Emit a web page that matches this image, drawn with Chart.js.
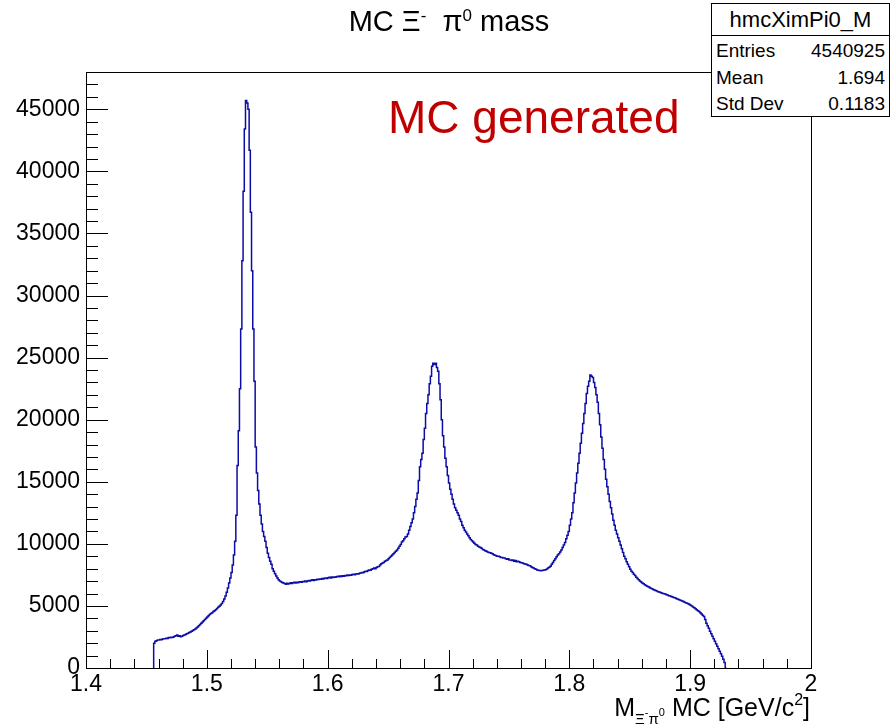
<!DOCTYPE html>
<html>
<head>
<meta charset="utf-8">
<script src="https://cdn.jsdelivr.net/npm/chart.js@4/dist/chart.umd.min.js"></script>
<style>
  html, body { margin:0; padding:0; background:#fff; }
  #wrap { position:relative; width:890px; height:727px; font-family:"Liberation Sans", Arial, Helvetica, sans-serif; }
  canvas { position:absolute; left:0; top:0; }
  .ov { position:absolute; white-space:nowrap; color:#000; }
  #title { left:449px; top:5px; transform:translateX(-50%); font-size:29px; line-height:33px; }
  #title sup { font-size:17px; vertical-align:10px; line-height:0; }
  #stats { left:711px; top:3px; width:177px; height:112px; background:#fff; border:1px solid #000; }
  #stats .hdr { position:absolute; left:0; top:0; width:177px; height:31px; border-bottom:1px solid #000; text-align:center; font-size:22px; line-height:31px; }
  #stats .row { position:absolute; left:4px; width:169px; font-size:19px; line-height:22px; }
  #stats .row span.v { position:absolute; right:0; }
  #ann { left:388px; top:91px; font-size:46px; line-height:52px; color:#c00000; }
  #xtitle { right:80px; top:693px; font-size:25px; line-height:29px; }
  #xtitle sub { font-size:15px; vertical-align:-8px; line-height:0; }
  #xtitle sub sup { font-size:11px; vertical-align:8px; }
  #xtitle > sup { font-size:16px; vertical-align:11px; line-height:0; }
</style>
</head>
<body>
<div id="wrap">
  <canvas id="c" width="890" height="727"></canvas>
  <div class="ov" id="title">MC &Xi;<sup>-</sup>&nbsp; &pi;<sup>0</sup> mass</div>
  <div class="ov" id="ann">MC generated</div>
  <div class="ov" id="xtitle">M<sub>&Xi;<sup>-</sup>&pi;<sup>0</sup></sub> MC [GeV/c<sup>2</sup>]</div>
  <div class="ov" id="stats">
    <div class="hdr" id="statsName"></div>
    <div class="row" style="top:36px"><span id="l0"></span><span class="v" id="v0"></span></div>
    <div class="row" style="top:63px"><span id="l1"></span><span class="v" id="v1"></span></div>
    <div class="row" style="top:89px"><span id="l2"></span><span class="v" id="v2"></span></div>
  </div>
</div>
<script>
// ---------------- data ----------------
const histName = "hmcXimPi0_M";
const statLabels = ["Entries", "Mean", "Std Dev"];
const statValues = ["4540925", "1.694", "0.1183"];

const binStart = 1.456;   // low edge of first filled bin (GeV/c^2)
const binWidth = 0.001;   // bin width (GeV/c^2)

// bin contents, one per bin starting at binStart
const counts = [
  1700, 2000, 2150, 2200, 2250, 2250, 2300, 2280, 2330, 2350,
  2350, 2400, 2380, 2450, 2430, 2480, 2450, 2500, 2550, 2600,
  2650, 2560, 2600, 2520, 2560, 2620, 2660, 2700, 2760, 2800,
  2850, 2900, 2950, 3020, 3080, 3150, 3220, 3300, 3400, 3500,
  3600, 3700, 3800, 3900, 4000, 4100, 4200, 4300, 4380, 4450,
  4550, 4620, 4700, 4800, 4900, 4980, 5080, 5200, 5350, 5550,
  5800, 6100, 6450, 6850, 7250, 7700, 8300, 9100, 10200, 12300,
  16300, 19100, 22500, 27300, 32800, 38400, 43400, 45700, 45500, 45000,
  41700, 36700, 32000, 27300, 23100, 17800, 15700, 14300, 13200, 12300,
  11600, 11000, 10600, 10200, 9700, 9250, 8900, 8600, 8350, 8000,
  7800, 7600, 7400, 7250, 7100, 7000, 6950, 6880, 6850, 6800,
  6750, 6820, 6760, 6800, 6860, 6800, 6870, 6900, 6840, 6900,
  6860, 6920, 6950, 6900, 6960, 6940, 7000, 6950, 7010, 7050,
  7000, 7060, 7100, 7050, 7110, 7080, 7150, 7120, 7160, 7150,
  7200, 7170, 7220, 7250, 7210, 7260, 7300, 7250, 7320, 7280,
  7330, 7300, 7350, 7380, 7340, 7400, 7370, 7420, 7390, 7450,
  7420, 7480, 7450, 7500, 7470, 7530, 7560, 7520, 7580, 7600,
  7570, 7630, 7650, 7700, 7680, 7750, 7800, 7780, 7850, 7900,
  7880, 7950, 8000, 8050, 8000, 8100, 8150, 8180, 8300, 8400,
  8450, 8500, 8600, 8650, 8700, 8800, 8900, 9000, 9100, 9200,
  9300, 9400, 9500, 9650, 9800, 9950, 10150, 10250, 10400, 10550,
  10600, 10800, 11100, 11400, 11700, 12000, 12500, 13000, 13600, 14100,
  15100, 16200, 16800, 17300, 18400, 19300, 20500, 21300, 22000, 22900,
  23500, 24300, 24550, 24450, 24550, 24200, 23900, 22900, 21600, 20000,
  18700, 17800, 16900, 16200, 15500, 14900, 14400, 14000, 13600, 13200,
  12900, 12700, 12500, 12300, 12000, 11800, 11500, 11300, 11100, 10950,
  10800, 10650, 10500, 10350, 10250, 10150, 10050, 9950, 9900, 9800,
  9750, 9700, 9650, 9550, 9500, 9450, 9400, 9350, 9300, 9280,
  9250, 9200, 9120, 9080, 9050, 9000, 9000, 8950, 8900, 8900,
  8850, 8850, 8800, 8750, 8800, 8700, 8700, 8650, 8700, 8600,
  8650, 8550, 8600, 8550, 8500, 8480, 8450, 8400, 8380, 8350,
  8300, 8250, 8230, 8150, 8100, 8050, 8000, 7950, 7900, 7870,
  7850, 7840, 7850, 7880, 7900, 7920, 7980, 8050, 8120, 8200,
  8350, 8500, 8650, 8800, 8950, 9100, 9200, 9350, 9500, 9700,
  9900, 10100, 10400, 10700, 11000, 11500, 12000, 12500, 13300, 14100,
  14900, 15700, 16500, 17300, 18100, 18900, 19700, 20500, 21300, 22100,
  22700, 23100, 23600, 23500, 23400, 23000, 22600, 22000, 21400, 20500,
  19600, 18600, 17700, 16800, 16000, 15200, 14600, 14000, 13400, 12900,
  12400, 11900, 11500, 11100, 10800, 10500, 10200, 9900, 9600, 9300,
  9000, 8800, 8550, 8350, 8150, 7950, 7800, 7700, 7550, 7450,
  7300, 7200, 7100, 7000, 6920, 6850, 6780, 6700, 6650, 6580,
  6550, 6480, 6420, 6380, 6330, 6280, 6250, 6200, 6150, 6120,
  6080, 6050, 6000, 5980, 5950, 5900, 5870, 5820, 5800, 5750,
  5720, 5680, 5650, 5600, 5560, 5520, 5480, 5440, 5400, 5350,
  5300, 5250, 5220, 5180, 5120, 5060, 5000, 4920, 4850, 4780,
  4700, 4620, 4550, 4450, 4350, 4250, 4150, 3900, 3600, 3400,
  3200, 2950, 2750, 2550, 2350, 2150, 1950, 1750, 1550, 1350,
  1150, 950, 700, 450
];

const xRange = [1.4, 2.0];
const yRange = [0, 48000];
const xMajorTicks = [1.4, 1.5, 1.6, 1.7, 1.8, 1.9, 2.0];
const xTickLabels = ["1.4", "1.5", "1.6", "1.7", "1.8", "1.9", "2"];
const yMajorTicks = [0, 5000, 10000, 15000, 20000, 25000, 30000, 35000, 40000, 45000];
const yTickLabels = ["0", "5000", "10000", "15000", "20000", "25000", "30000", "35000", "40000", "45000"];
const xMinorStep = 0.02;
const yMinorStep = 1000;

// ---------------- text overlays ----------------
document.getElementById('statsName').textContent = histName;
statLabels.forEach((l, i) => {
  document.getElementById('l' + i).textContent = l;
  document.getElementById('v' + i).textContent = statValues[i];
});

// ---------------- histogram outline points ----------------
const pts = [{ x: binStart, y: 0 }];
counts.forEach((c, i) => pts.push({ x: binStart + i * binWidth, y: c }));
pts.push({ x: binStart + counts.length * binWidth, y: 0 });

const rootFrame = {
  id: 'rootFrame',
  afterDatasetsDraw(chart) {
    const { ctx, chartArea: a, scales: { x, y } } = chart;
    ctx.save();
    ctx.strokeStyle = '#000';
    ctx.lineWidth = 1;
    ctx.beginPath();
    const nx = Math.round((xRange[1] - xRange[0]) / xMinorStep);
    for (let i = 0; i <= nx; i++) {
      const v = xRange[0] + i * xMinorStep;
      const major = xMajorTicks.some(t => Math.abs(t - v) < 1e-6);
      const px = Math.round(x.getPixelForValue(v)) + 0.5;
      ctx.moveTo(px, a.bottom);
      ctx.lineTo(px, a.bottom - (major ? 18 : 9));
    }
    const ny = Math.round((yRange[1] - yRange[0]) / yMinorStep);
    for (let i = 0; i <= ny; i++) {
      const v = yRange[0] + i * yMinorStep;
      const major = yMajorTicks.includes(v);
      const py = Math.round(y.getPixelForValue(v)) + 0.5;
      ctx.moveTo(a.left, py);
      ctx.lineTo(a.left + (major ? 22 : 12), py);
    }
    ctx.stroke();
    ctx.strokeRect(Math.round(a.left) + 0.5, Math.round(a.top) + 0.5,
                   Math.round(a.right - a.left), Math.round(a.bottom - a.top));
    ctx.restore();
  }
};

new Chart(document.getElementById('c'), {
  type: 'line',
  data: {
    datasets: [{
      label: histName,
      data: pts,
      stepped: 'after',
      borderColor: '#0c0ca6',
      borderWidth: 1.5,
      pointRadius: 0,
      fill: false,
      tension: 0
    }]
  },
  options: {
    responsive: false,
    animation: false,
    events: [],
    layout: { padding: { top: 72, right: 79, left: 0, bottom: 0 } },
    plugins: { legend: { display: false }, tooltip: { enabled: false }, title: { display: false } },
    scales: {
      x: {
        type: 'linear',
        min: xRange[0], max: xRange[1],
        grid: { display: false, drawTicks: false },
        border: { display: false },
        afterBuildTicks: s => { s.ticks = xMajorTicks.map(v => ({ value: v })); },
        afterFit: s => { s.height = 59; },
        ticks: {
          color: '#000', padding: 3, maxRotation: 0, autoSkip: false,
          font: { family: '"Liberation Sans", Arial, sans-serif', size: 23 },
          callback: (v) => { const i = xMajorTicks.findIndex(t => Math.abs(t - v) < 1e-6); return i >= 0 ? xTickLabels[i] : ''; }
        }
      },
      y: {
        type: 'linear',
        min: yRange[0], max: yRange[1],
        grid: { display: false, drawTicks: false },
        border: { display: false },
        afterBuildTicks: s => { s.ticks = yMajorTicks.map(v => ({ value: v })); },
        afterFit: s => { s.width = 86; },
        ticks: {
          color: '#000', padding: 6, autoSkip: false,
          font: { family: '"Liberation Sans", Arial, sans-serif', size: 23 },
          callback: (v) => { const i = yMajorTicks.indexOf(v); return i >= 0 ? yTickLabels[i] : ''; }
        }
      }
    }
  },
  plugins: [rootFrame]
});
</script>
</body>
</html>
